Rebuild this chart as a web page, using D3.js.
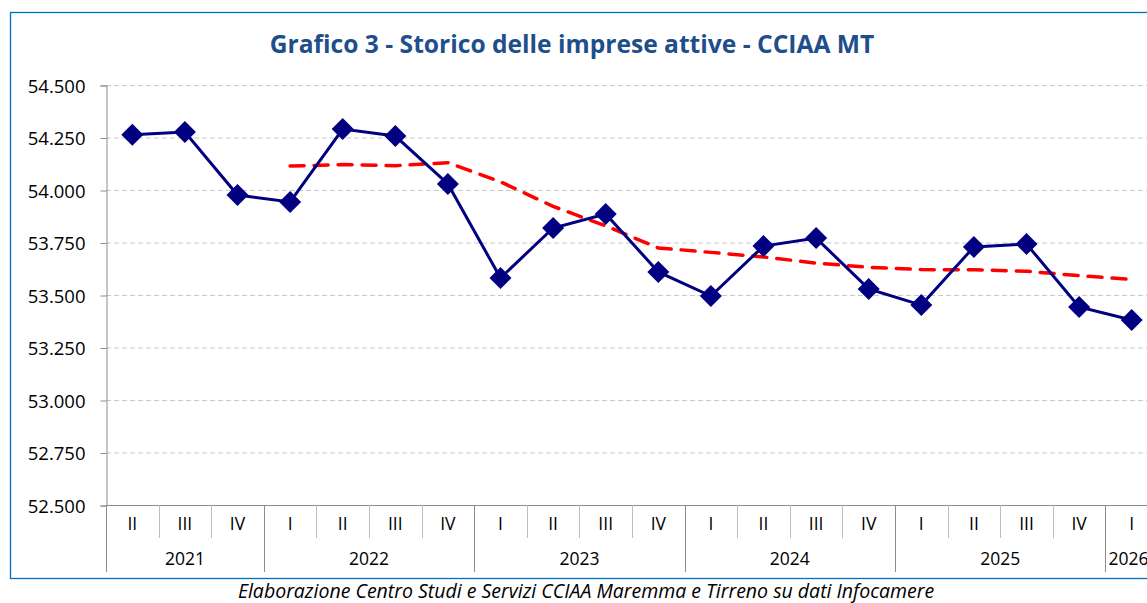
<!DOCTYPE html>
<html>
<head>
<meta charset="utf-8">
<script src="https://cdn.jsdelivr.net/npm/d3@7"></script>
<style>
  body { margin: 0; background: #fff; }
  svg { display: block; }
</style>
</head>
<body>
<svg id="chart"></svg>
<script>
const quarters = ["II", "III", "IV", "I", "II", "III", "IV", "I", "II", "III", "IV",
  "I", "II", "III", "IV", "I", "II", "III", "IV", "I"];
const years = ["2021", "2021", "2021", "2022", "2022", "2022", "2022", "2023", "2023", "2023", "2023",
  "2024", "2024", "2024", "2024", "2025", "2025", "2025", "2025", "2026"];
const imprese = [54263, 54276, 53976, 53943, 54290, 54257, 54029, 53581, 53819, 53886, 53610,
  53495, 53733, 53771, 53529, 53452, 53729, 53743, 53443, 53381];
// media mobile 4 trimestri (parte da I 2022)
const media = [null, null, null, 54114, 54121, 54116, 54130, 54039, 53922, 53829, 53724,
  53703, 53681, 53652, 53632, 53621, 53620, 53613, 53592, 53574];
const yTicks = [52500, 52750, 53000, 53250, 53500, 53750, 54000, 54250, 54500];

const width = 1147;
const height = 603;
const plotLeft = 106;
const plotTop = 85;
const plotBottom = 505;
const band = 52.6;
const font = "'Open Sans', sans-serif";

const svg = d3.select("#chart").attr("width", width).attr("height", height);
const idx = d3.range(quarters.length);

const x = d3.scaleBand().domain(idx).range([plotLeft, plotLeft + band * idx.length]);
const y = d3.scaleLinear().domain([52500, 54500]).range([plotBottom, plotTop]);
const fmt = (d) => d3.format(",.3f")(d / 1000).replace(",", "");

// cornice esterna
svg.append("rect")
  .attr("x", 10.5).attr("y", 12.5)
  .attr("width", 1160).attr("height", 566)
  .attr("fill", "none").attr("stroke", "#0070C0").attr("stroke-width", 1.3);

svg.append("text")
  .attr("x", 572).attr("y", 53)
  .attr("text-anchor", "middle")
  .attr("font-family", font)
  .attr("font-weight", "bold")
  .attr("font-size", 24.6)
  .attr("fill", "#1F4E8C")
  .text("Grafico 3 - Storico delle imprese attive - CCIAA MT");

// griglia
svg.append("g")
  .selectAll("line")
  .data(yTicks.slice(1))
  .join("line")
  .attr("x1", plotLeft).attr("x2", width)
  .attr("y1", (d) => y(d) + 0.5).attr("y2", (d) => y(d) + 0.5)
  .attr("stroke", "#C8C8C8").attr("stroke-dasharray", "5,3");

// asse y
const yAxis = d3.axisLeft(y).tickValues(yTicks).tickSize(6).tickFormat(fmt);
svg.append("g")
  .attr("transform", `translate(${plotLeft + 0.5},0.5)`)
  .call(yAxis)
  .call((g) => g.select(".domain").attr("stroke", "#8C8C8C"))
  .call((g) => g.selectAll(".tick line").attr("stroke", "#8C8C8C"))
  .call((g) => g.selectAll(".tick text")
    .attr("x", -21)
    .attr("dy", "0.36em")
    .attr("font-family", font)
    .attr("font-size", 18.5)
    .attr("fill", "#000"));

// asse x (base)
svg.append("line")
  .attr("x1", plotLeft).attr("x2", width)
  .attr("y1", plotBottom + 0.5).attr("y2", plotBottom + 0.5)
  .attr("stroke", "#8C8C8C");

// separatori trimestri e anni
const sep = idx.concat([idx.length]);
const isYearSep = (i) => i === 0 || i === idx.length || years[i] !== years[i - 1];
svg.append("g")
  .selectAll("line")
  .data(sep)
  .join("line")
  .attr("x1", (i) => Math.round(plotLeft + i * band) + 0.5)
  .attr("x2", (i) => Math.round(plotLeft + i * band) + 0.5)
  .attr("y1", plotBottom)
  .attr("y2", (i) => (isYearSep(i) ? 572 : 538))
  .attr("stroke", (i) => (isYearSep(i) ? "#8C8C8C" : "#BEBEBE"));

svg.append("g")
  .selectAll("text")
  .data(idx)
  .join("text")
  .attr("x", (i) => x(i) + x.bandwidth() / 2)
  .attr("y", 530)
  .attr("text-anchor", "middle")
  .attr("font-family", font)
  .attr("font-size", 17.5)
  .text((i) => quarters[i]);

const yearGroups = d3.groups(idx, (i) => years[i]);
svg.append("g")
  .selectAll("text")
  .data(yearGroups)
  .join("text")
  .attr("x", ([yr, ii]) => {
    const c = (x(ii[0]) + x(ii[ii.length - 1]) + x.bandwidth()) / 2;
    return yr === "2026" ? x(ii[0]) + 3 : c;
  })
  .attr("y", 565)
  .attr("text-anchor", ([yr]) => (yr === "2026" ? "start" : "middle"))
  .attr("font-family", font)
  .attr("font-size", 17.5)
  .text(([yr]) => yr);

const cx = (i) => x(i) + x.bandwidth() / 2;

// media mobile
svg.append("path")
  .datum(idx.filter((i) => media[i] !== null))
  .attr("fill", "none")
  .attr("stroke", "#FF0000")
  .attr("stroke-width", 3.5)
  .attr("stroke-dasharray", "14,10")
  .attr("stroke-linecap", "round")
  .attr("d", d3.line().x(cx).y((i) => y(media[i])));

// serie imprese attive
svg.append("path")
  .datum(idx)
  .attr("fill", "none")
  .attr("stroke", "#000080")
  .attr("stroke-width", 3)
  .attr("d", d3.line().x(cx).y((i) => y(imprese[i])));

svg.append("g")
  .selectAll("path")
  .data(idx)
  .join("path")
  .attr("transform", (i) => `translate(${cx(i)},${y(imprese[i])})`)
  .attr("d", "M0,-11L11,0L0,11L-11,0Z")
  .attr("fill", "#000080");

svg.append("text")
  .attr("x", 586).attr("y", 598)
  .attr("text-anchor", "middle")
  .attr("font-family", font)
  .attr("font-style", "italic")
  .attr("font-size", 19.5)
  .text("Elaborazione Centro Studi e Servizi CCIAA Maremma e Tirreno su dati Infocamere");
</script>
</body>
</html>
